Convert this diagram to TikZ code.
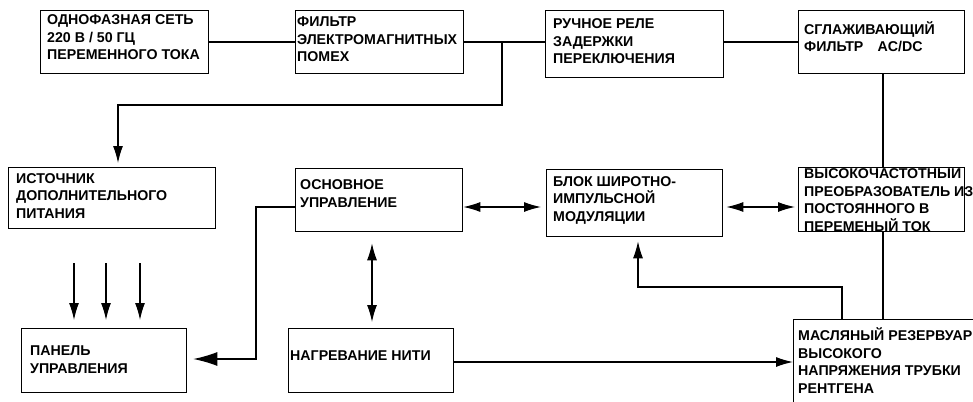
\documentclass[tikz,border=0pt]{standalone}
\usepackage{fontspec}
\setmainfont{Liberation Sans}
\usetikzlibrary{arrows.meta,calc}
\begin{document}
\begin{tikzpicture}[x=1pt,y=-1pt,
  box/.style={draw,line width=1.3pt,inner sep=0pt,anchor=north west},
  txt/.style={anchor=base west,align=left,inner sep=0pt,font=\bfseries\fontsize{14.2}{17.5}\selectfont},
  conn/.style={line width=1.2pt},
  tip/.style={-{Latex[length=17pt,width=10pt]}},
  bigtip/.style={-{Latex[length=24pt,width=14pt]}},
  dtip/.style={{Latex[length=17pt,width=10pt]}-{Latex[length=17pt,width=10pt]}}]
\useasboundingbox (0,0) rectangle (973,401);
\begin{scope}
\clip (0,0) rectangle (973,401);
% boxes
\node[box,minimum width=168pt,minimum height=63pt] (b1) at (40,10) {};
\node[box,minimum width=168pt,minimum height=63pt] (b2) at (295,10) {};
\node[box,minimum width=178pt,minimum height=67pt] (b3) at (545,10) {};
\node[box,minimum width=166pt,minimum height=63pt] (b4) at (798,10) {};
\node[box,minimum width=207pt,minimum height=61pt] (src) at (8,167) {};
\node[box,minimum width=167pt,minimum height=63pt] (main) at (295,168) {};
\node[box,minimum width=176pt,minimum height=67pt] (pwm) at (546,169) {};
\node[box,minimum width=166pt,minimum height=64pt] (hf) at (798,167) {};
\node[box,minimum width=165pt,minimum height=64pt] (panel) at (21,328) {};
\node[box,minimum width=165pt,minimum height=64pt] (fil) at (288,328) {};
\node[box,minimum width=220pt,minimum height=120pt] (oil) at (793,319) {};
% texts (anchor = baseline of the last line)
\node[txt] (t1) at (47,60) {ОДНОФАЗНАЯ СЕТЬ\\220 В / 50 ГЦ\\ПЕРЕМЕННОГО ТОКА};
\node[txt] (t2) at (297,62) {ФИЛЬТР\\ЭЛЕКТРОМАГНИТНЫХ\\ПОМЕХ};
\node[txt] (t3) at (553,64) {РУЧНОЕ РЕЛЕ\\ЗАДЕРЖКИ\\ПЕРЕКЛЮЧЕНИЯ};
\node[txt] (t4) at (804,52) {СГЛАЖИВАЮЩИЙ\\ФИЛЬТР\quad AC/DC};
\node[txt] (t5) at (16,218) {ИСТОЧНИК\\ДОПОЛНИТЕЛЬНОГО\\ПИТАНИЯ};
\node[txt] (t6) at (300,207) {ОСНОВНОЕ\\УПРАВЛЕНИЕ};
\node[txt] (t7) at (553,221) {БЛОК ШИРОТНО-\\ИМПУЛЬСНОЙ\\МОДУЛЯЦИИ};
\begin{scope}
\clip (0,167) rectangle (973,401);
\node[txt] (t8) at (804,231) {ВЫСОКОЧАСТОТНЫЙ\\ПРЕОБРАЗОВАТЕЛЬ ИЗ\\ПОСТОЯННОГО В\\ПЕРЕМЕНЫЙ ТОК};
\end{scope}
\node[txt] (t9) at (30,373) {ПАНЕЛЬ\\УПРАВЛЕНИЯ};
\node[txt] (t10) at (290,360) {НАГРЕВАНИЕ НИТИ};
\node[txt] (t11) at (798,393) {МАСЛЯНЫЙ РЕЗЕРВУАР\\ВЫСОКОГО\\НАПРЯЖЕНИЯ ТРУБКИ\\РЕНТГЕНА};
% helper coordinates
\coordinate (j1) at (502,42);
\coordinate (v1) at (883,0);
\coordinate (s1) at (118,0);
\coordinate (h1) at (0,207);
\coordinate (m1) at (372,0);
\coordinate (pl) at (256,0);
\coordinate (py) at (0,359);
\coordinate (fy) at (0,362);
\coordinate (ox) at (842,0);
\coordinate (px) at (638,0);
\coordinate (ry) at (0,287);
% connectors
\draw[conn] (b1.east |- 0,42) -- (b2.west |- 0,42);
\draw[conn] (b2.east |- 0,42) -- (b3.west |- 0,42);
\draw[conn] (b3.east |- 0,42) -- (b4.west |- 0,42);
\draw[conn,tip,shorten >=4pt] (j1) |- (s1 |- 0,105) -- (s1 |- src.north);
\draw[conn] (v1 |- b4.south) -- (v1 |- hf.north);
\draw[conn] (v1 |- hf.south) -- (v1 |- oil.north);
\draw[conn,dtip,shorten >=5pt] (main.east |- h1) -- (pwm.west |- h1);
\draw[conn,dtip,shorten <=3pt,shorten >=3pt] (pwm.east |- h1) -- (hf.west |- h1);
\draw[conn,dtip,shorten <=11pt,shorten >=6pt] (m1 |- main.south) -- (m1 |- fil.north);
\draw[conn,bigtip,shorten >=6pt] (main.west |- h1) -| (pl |- py) -- (panel.east |- py);
\coordinate (a1) at (74,263);
\coordinate (a2) at (106,263);
\coordinate (a3) at (140,263);
\draw[conn,tip,shorten >=8pt] (a1) -- (a1 |- panel.north);
\draw[conn,tip,shorten >=8pt] (a2) -- (a2 |- panel.north);
\draw[conn,tip,shorten >=8pt] (a3) -- (a3 |- panel.north);
\draw[conn,tip] (fil.east |- fy) -- (oil.west |- fy);
\draw[conn,tip,shorten >=4pt] (ox |- oil.north) |- (px |- ry) -- (px |- pwm.south);
\end{scope}
\end{tikzpicture}
\end{document}
